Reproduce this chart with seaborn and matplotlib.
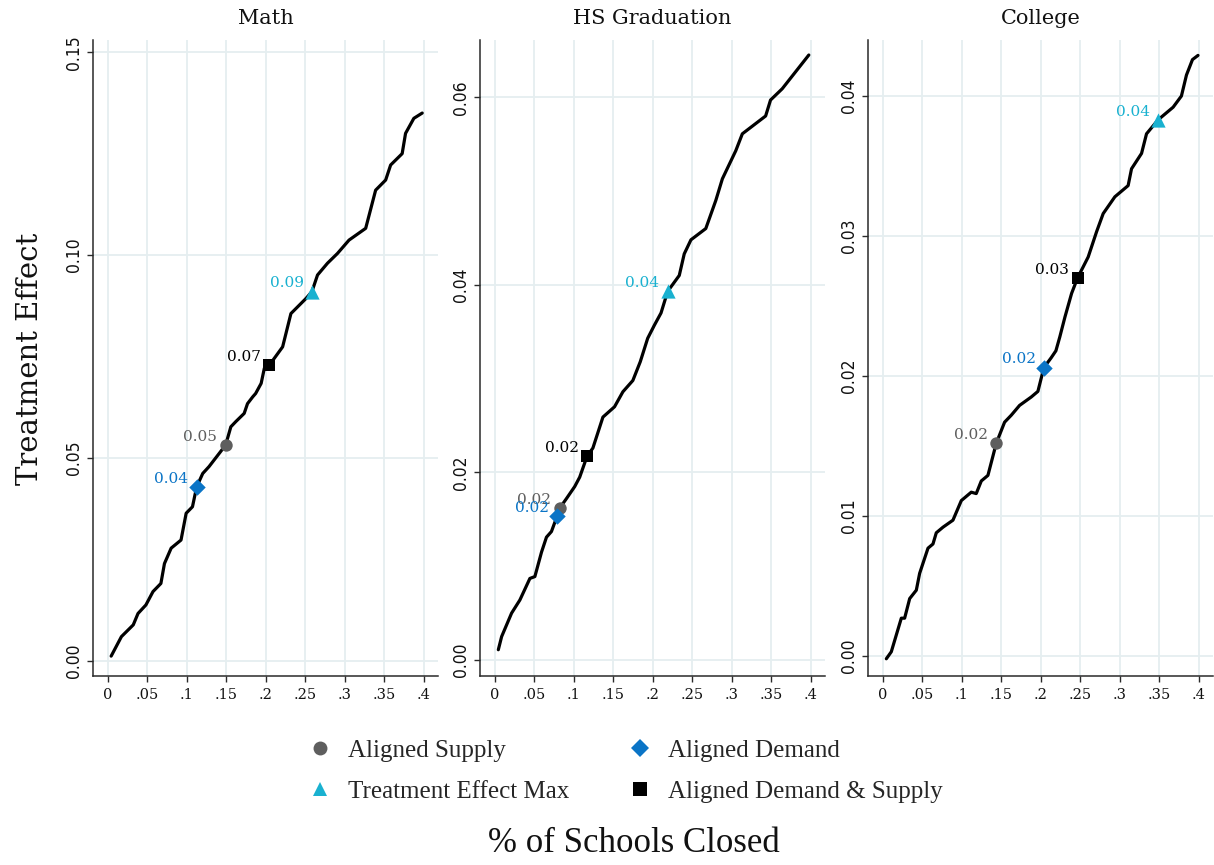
import matplotlib
matplotlib.use("Agg")
import matplotlib.pyplot as plt
from matplotlib import font_manager
from matplotlib.font_manager import FontProperties
import seaborn as sns
import pandas as pd

# ---- curves: share of schools closed vs. treatment effect ----
math_x = [0.004, 0.017, 0.032, 0.038, 0.048, 0.057, 0.067, 0.0715, 0.080, 0.0925,
          0.099, 0.107, 0.1123, 0.120, 0.128, 0.149, 0.1556, 0.162, 0.1725, 0.1767,
          0.1834, 0.187, 0.194, 0.198, 0.2044, 0.2212, 0.2317, 0.2507, 0.2583, 0.2654,
          0.278, 0.2906, 0.3053, 0.3264, 0.339, 0.3517, 0.358, 0.3726, 0.3769, 0.3874,
          0.398]
math_y = [0.0012, 0.006, 0.0089, 0.0117, 0.0138, 0.0171, 0.0191, 0.024, 0.0278, 0.0298,
          0.0364, 0.038, 0.0429, 0.0462, 0.0479, 0.0532, 0.0577, 0.059, 0.061, 0.0634,
          0.0651, 0.0659, 0.0684, 0.0721, 0.0729, 0.0774, 0.0856, 0.0893, 0.0910, 0.0951,
          0.098, 0.1004, 0.1037, 0.1066, 0.116, 0.1185, 0.1222, 0.125, 0.130, 0.1337,
          0.135]

hs_x = [0.0042, 0.0084, 0.021, 0.0315, 0.0442, 0.0505, 0.0589, 0.0652, 0.0715, 0.0787,
        0.082, 0.0904, 0.101, 0.1073, 0.1165, 0.124, 0.1367, 0.1514, 0.162, 0.1746,
        0.184, 0.1934, 0.2019, 0.2103, 0.2187, 0.2334, 0.2397, 0.2482, 0.267, 0.2797,
        0.288, 0.305, 0.3133, 0.3428, 0.349, 0.3638, 0.3975]
hs_y = [0.0011, 0.0025, 0.0050, 0.0064, 0.0087, 0.0089, 0.0115, 0.0131, 0.0137, 0.01535,
        0.0162, 0.0172, 0.0185, 0.0195, 0.0217, 0.0226, 0.0259, 0.0270, 0.0286, 0.0298,
        0.0318, 0.0343, 0.0357, 0.0370, 0.0393, 0.0410, 0.0433, 0.0448, 0.0460, 0.0490,
        0.0513, 0.0543, 0.0561, 0.0580, 0.0597, 0.0609, 0.0645]

col_x = [0.0042, 0.0105, 0.0232, 0.0274, 0.0338, 0.0422, 0.0464, 0.057, 0.0633, 0.0675,
         0.076, 0.0886, 0.0992, 0.1118, 0.1181, 0.1245, 0.1329, 0.1435, 0.154, 0.1625,
         0.173, 0.1878, 0.1962, 0.2038, 0.213, 0.219, 0.224, 0.2304, 0.2389, 0.2464,
         0.2599, 0.2705, 0.2789, 0.2937, 0.3105, 0.3148, 0.3275, 0.3338, 0.3485, 0.3675,
         0.378, 0.3844, 0.392, 0.399]
col_y = [-0.0002, 0.0003, 0.0027, 0.0027, 0.0041, 0.0047, 0.0059, 0.0077, 0.0080, 0.0088,
         0.0092, 0.0097, 0.0111, 0.0117, 0.0116, 0.0125, 0.0129, 0.0152, 0.0167, 0.0172,
         0.0179, 0.0185, 0.0189, 0.0206, 0.0213, 0.0218, 0.0228, 0.0242, 0.0259, 0.0270,
         0.0285, 0.0303, 0.0316, 0.0328, 0.0336, 0.0348, 0.0359, 0.0373, 0.0383, 0.0392,
         0.0400, 0.0415, 0.0426, 0.0429]

# ---- highlighted scenarios (same order in every panel) ----
scenarios = ["Aligned Supply", "Aligned Demand", "Treatment Effect Max", "Aligned Demand & Supply"]
math_mx = [0.149, 0.1123, 0.2583, 0.2044]
math_my = [0.0532, 0.0429, 0.0910, 0.0729]
hs_mx = [0.082, 0.0787, 0.2187, 0.1165]
hs_my = [0.0162, 0.01535, 0.0393, 0.0217]
col_mx = [0.1435, 0.2038, 0.3485, 0.2464]
col_my = [0.0152, 0.0206, 0.0383, 0.0270]

panel_titles = ["Math", "HS Graduation", "College"]
x_ticks = [0, 0.05, 0.1, 0.15, 0.2, 0.25, 0.3, 0.35, 0.4]
x_ticklabels = ["0", ".05", ".1", ".15", ".2", ".25", ".3", ".35", ".4"]
math_yticks = [0.00, 0.05, 0.10, 0.15]
hs_yticks = [0.00, 0.02, 0.04, 0.06]
col_yticks = [0.00, 0.01, 0.02, 0.03, 0.04]

# ---- styling ----
sns.set_theme(style="white")
available = {f.name for f in font_manager.fontManager.ttflist}
narrow_sans = "Liberation Sans Narrow" if "Liberation Sans Narrow" in available else "DejaVu Sans"
serif = "DejaVu Serif"
narrow_serif = "Liberation Serif"

colors = {"Aligned Supply": "#5e5e5e", "Aligned Demand": "#0a74c6",
          "Treatment Effect Max": "#19b1d0", "Aligned Demand & Supply": "#000000"}
markers = {"Aligned Supply": "o", "Aligned Demand": "D",
           "Treatment Effect Max": "^", "Aligned Demand & Supply": "s"}
sizes = {"Aligned Supply": 80, "Aligned Demand": 70,
         "Treatment Effect Max": 105, "Aligned Demand & Supply": 85}
grid_color = "#e5eef0"
spine_color = "#2a2a2a"

W, H = 1214, 865
fig = plt.figure(figsize=(W / 100, H / 100), dpi=100)
lefts = [93, 480, 868]
ax_w = 345
top_px, bottom_px = 40, 676

panels = [
    (math_x, math_y, math_mx, math_my, math_yticks, (-0.0037, 0.153)),
    (hs_x, hs_y, hs_mx, hs_my, hs_yticks, (-0.0017, 0.0661)),
    (col_x, col_y, col_mx, col_my, col_yticks, (-0.00143, 0.0440)),
]

tick_fp = FontProperties(family=narrow_sans, stretch="condensed", size=12.5)

for i, (xs, ys, mx, my, yt, ylim) in enumerate(panels):
    ax = fig.add_axes([lefts[i] / W, 1 - bottom_px / H, ax_w / W, (bottom_px - top_px) / H])
    curve = pd.DataFrame({"closed": xs, "effect": ys})
    sns.lineplot(data=curve, x="closed", y="effect", ax=ax, color="black",
                 linewidth=2.3, sort=False, estimator=None, solid_joinstyle="round",
                 solid_capstyle="round", zorder=2)
    pts = pd.DataFrame({"closed": mx, "effect": my, "scenario": scenarios})
    for _, row in pts.iterrows():
        sub = pts[pts["scenario"] == row["scenario"]]
        sns.scatterplot(data=sub, x="closed", y="effect", ax=ax,
                        color=colors[row["scenario"]], marker=markers[row["scenario"]],
                        s=sizes[row["scenario"]], linewidth=0, legend=False, zorder=3)
        ax.annotate(f"{row['effect']:.2f}", (row["closed"], row["effect"]),
                    xytext=(-6, 3), textcoords="offset points", ha="right",
                    va="baseline", color=colors[row["scenario"]],
                    family=serif, fontsize=11, zorder=4)

    ax.set_xlim(-0.019, 0.418)
    ax.set_ylim(*ylim)
    ax.set_xticks(x_ticks)
    ax.set_xticklabels(x_ticklabels, family=serif, fontsize=10.5)
    ax.set_yticks(yt)
    ax.set_yticklabels([f"{v:.2f}" for v in yt], rotation=90, va="center")
    for lab in ax.get_yticklabels():
        lab.set_fontproperties(tick_fp)
    ax.set_xlabel("")
    ax.set_ylabel("")
    ax.grid(True, color=grid_color, linewidth=1.3)
    ax.set_axisbelow(True)
    sns.despine(ax=ax)
    for side in ("left", "bottom"):
        ax.spines[side].set_color(spine_color)
        ax.spines[side].set_linewidth(1.1)
    ax.tick_params(axis="both", direction="out", length=4.5, width=1.0,
                   color=spine_color, labelcolor="#111111", bottom=True, left=True)
    ax.tick_params(axis="x", pad=4)
    ax.tick_params(axis="y", pad=3)

    fig.text((lefts[i] + ax_w / 2) / W, 1 - 18 / H, panel_titles[i],
             ha="center", va="center", family=serif, fontsize=15, color="#111111")

# shared axis titles
fig.text(30 / W, 1 - 359 / H, "Treatment Effect", rotation=90, ha="center",
         va="center", family=serif, fontsize=21, color="#111111")
fig.text(634 / W, 1 - 843 / H, "% of Schools Closed", ha="center", va="center",
         family=narrow_serif, fontsize=25, color="#111111")

# legend
handles = []
order = ["Aligned Supply", "Treatment Effect Max", "Aligned Demand", "Aligned Demand & Supply"]
for name in order:
    handles.append(plt.Line2D([], [], linestyle="none", marker=markers[name],
                              markersize=10 if markers[name] != "D" else 9,
                              markerfacecolor=colors[name], markeredgewidth=0,
                              label=name))
fig.legend(handles=handles, ncol=2, loc="center", bbox_to_anchor=(624 / W, 1 - 771 / H),
           frameon=False, prop={"family": narrow_serif, "size": 18},
           handletextpad=0.55, columnspacing=2.2, labelspacing=0.75, handlelength=1.2)

fig.savefig("out.png", dpi=100, facecolor="white")
